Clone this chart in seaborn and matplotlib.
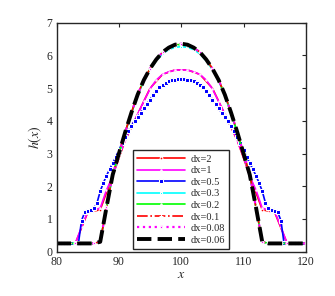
import numpy as np
import pandas as pd
import matplotlib
matplotlib.use("Agg")
import matplotlib.pyplot as plt
import seaborn as sns

# ---- data ----
x_dx2 = [81, 83, 85, 87, 89, 91, 93, 95, 97, 99, 101, 103, 105, 107, 109, 111, 113, 115, 117, 119]
h_dx2 = [0.25, 0.25, 1.20, 1.28, 2.32, 3.40, 4.20, 5.00, 5.42, 5.56, 5.56, 5.42, 5.00, 4.20, 3.40, 2.32, 1.28, 1.20, 0.25, 0.25]

x_dx1 = list(range(80, 121))
h_dx1 = [0.25, 0.25, 0.25, 0.25, 0.75, 1.22, 1.27, 1.33, 1.88, 2.30, 2.90, 3.40, 3.82, 4.20, 4.60, 4.98, 5.25, 5.42, 5.50, 5.55, 5.56,
         5.55, 5.50, 5.42, 5.25, 4.98, 4.60, 4.20, 3.82, 3.40, 2.90, 2.30, 1.88, 1.33, 1.27, 1.22, 0.75, 0.25, 0.25, 0.25, 0.25]

x_dx05 = [80 + 0.5 * i for i in range(81)]
h_dx05 = [0.25, 0.25, 0.25, 0.25, 0.25, 0.25, 0.25, 0.25, 0.95, 1.20, 1.24, 1.27, 1.32, 1.50, 1.85, 2.10,
          2.32, 2.52, 2.70, 2.90, 3.10, 3.32, 3.50, 3.68, 3.85, 4.00, 4.12, 4.25, 4.38, 4.52, 4.65, 4.80,
          4.92, 5.03, 5.10, 5.16, 5.21, 5.24, 5.26, 5.28, 5.28,
          5.28, 5.26, 5.24, 5.21, 5.16, 5.10, 5.03, 4.92, 4.80, 4.65, 4.52, 4.38, 4.25, 4.12, 4.00, 3.85,
          3.68, 3.50, 3.32, 3.10, 2.90, 2.70, 2.52, 2.32, 2.10, 1.85, 1.50, 1.32, 1.27, 1.24, 1.20, 0.95,
          0.25, 0.25, 0.25, 0.25, 0.25, 0.25, 0.25, 0.25]

x_fine = list(range(80, 121))
h_dx03 = [0.25, 0.25, 0.25, 0.25, 0.25, 0.25, 0.25, 0.30, 1.35, 2.33, 2.98, 3.63, 4.22, 4.77, 5.22, 5.57, 5.84, 6.05, 6.18, 6.25, 6.27,
          6.25, 6.18, 6.05, 5.84, 5.57, 5.22, 4.77, 4.22, 3.63, 2.98, 2.33, 1.35, 0.30, 0.25, 0.25, 0.25, 0.25, 0.25, 0.25, 0.25]
h_dx02 = [0.25, 0.25, 0.25, 0.25, 0.25, 0.25, 0.25, 0.30, 1.35, 2.35, 3.00, 3.65, 4.25, 4.80, 5.25, 5.60, 5.88, 6.10, 6.24, 6.32, 6.34,
          6.32, 6.24, 6.10, 5.88, 5.60, 5.25, 4.80, 4.25, 3.65, 3.00, 2.35, 1.35, 0.30, 0.25, 0.25, 0.25, 0.25, 0.25, 0.25, 0.25]
h_dx01 = [0.25, 0.25, 0.25, 0.25, 0.25, 0.25, 0.25, 0.30, 1.35, 2.35, 3.00, 3.65, 4.25, 4.80, 5.25, 5.60, 5.88, 6.10, 6.24, 6.33, 6.35,
          6.33, 6.24, 6.10, 5.88, 5.60, 5.25, 4.80, 4.25, 3.65, 3.00, 2.35, 1.35, 0.30, 0.25, 0.25, 0.25, 0.25, 0.25, 0.25, 0.25]
h_dx008 = [0.25, 0.25, 0.25, 0.25, 0.25, 0.25, 0.25, 0.30, 1.35, 2.35, 3.00, 3.65, 4.25, 4.80, 5.25, 5.60, 5.88, 6.10, 6.24, 6.33, 6.36,
           6.33, 6.24, 6.10, 5.88, 5.60, 5.25, 4.80, 4.25, 3.65, 3.00, 2.35, 1.35, 0.30, 0.25, 0.25, 0.25, 0.25, 0.25, 0.25, 0.25]
h_dx006 = [0.25, 0.25, 0.25, 0.25, 0.25, 0.25, 0.25, 0.30, 1.35, 2.35, 3.00, 3.65, 4.25, 4.80, 5.25, 5.60, 5.88, 6.10, 6.24, 6.33, 6.36,
           6.33, 6.24, 6.10, 5.88, 5.60, 5.25, 4.80, 4.25, 3.65, 3.00, 2.35, 1.35, 0.30, 0.25, 0.25, 0.25, 0.25, 0.25, 0.25, 0.25]

labels = ["dx=2", "dx=1", "dx=0.5", "dx=0.3", "dx=0.2", "dx=0.1", "dx=0.08", "dx=0.06"]
x_ticks = [80, 90, 100, 110, 120]
y_ticks = [0, 1, 2, 3, 4, 5, 6, 7]

# ---- style ----
sns.set_theme(style="white")
plt.rcParams["font.family"] = ["Liberation Serif", "DejaVu Serif"]
plt.rcParams["mathtext.fontset"] = "stix"

fig = plt.figure(figsize=(3.35, 2.96), dpi=100)
ax = fig.add_axes([0.169, 0.150, 0.744, 0.773])

series = [
    (x_dx2, h_dx2, dict(color="#ff0000", linestyle="-", marker=".", markersize=4, linewidth=1.2)),
    (x_dx1, h_dx1, dict(color="#ff00ff", linestyle="-", marker=".", markersize=2, linewidth=1.2)),
    (x_dx05, h_dx05, dict(color="#0000ff", linestyle="-", marker="s", markersize=2.2, linewidth=1.2)),
    (x_fine, h_dx03, dict(color="#00ffff", linestyle="-", marker="s", markersize=2.0, linewidth=1.2)),
    (x_fine, h_dx02, dict(color="#00ff00", linestyle="-", marker=".", markersize=2, linewidth=1.2)),
    (x_fine, h_dx01, dict(color="#ff0000", linestyle="-.", marker="+", markersize=2.5, linewidth=1.2)),
    (x_fine, h_dx008, dict(color="#ff00ff", linestyle=":", marker=".", markersize=3.5, linewidth=1.6)),
    (x_fine, h_dx006, dict(color="#000000", linestyle="--", linewidth=2.8, dashes=(3.2, 1.6))),
]

for (xs, hs, kw), lab in zip(series, labels):
    df = pd.DataFrame({"x": xs, "h": hs})
    sns.lineplot(data=df, x="x", y="h", ax=ax, label=lab, sort=False,
                 estimator=None, **kw)

ax.set_xlim(80, 120)
ax.set_ylim(0, 7)
ax.set_xticks(x_ticks)
ax.set_yticks(y_ticks)
ax.set_xticklabels([str(t) for t in x_ticks])
ax.set_yticklabels([str(t) for t in y_ticks])
ax.tick_params(direction="in", length=3, width=0.8, top=True, right=True,
               labelsize=8.5, colors="#262626", pad=3)
for s in ax.spines.values():
    s.set_visible(True)
    s.set_color("#262626")
    s.set_linewidth(1.0)

ax.set_xlabel(r"$x$", fontsize=10, labelpad=0)
ax.set_ylabel(r"$h(x)$", fontsize=10, labelpad=2)

leg = ax.legend(loc="lower center", bbox_to_anchor=(0.5, 0.012), fontsize=7.5,
                frameon=True, fancybox=False, edgecolor="#262626",
                handlelength=4.6, handletextpad=0.5, labelspacing=0.22,
                borderpad=0.4, borderaxespad=0.0)
leg.get_frame().set_linewidth(1.0)
leg.get_frame().set_alpha(1.0)

fig.savefig("out.png", dpi=100)
